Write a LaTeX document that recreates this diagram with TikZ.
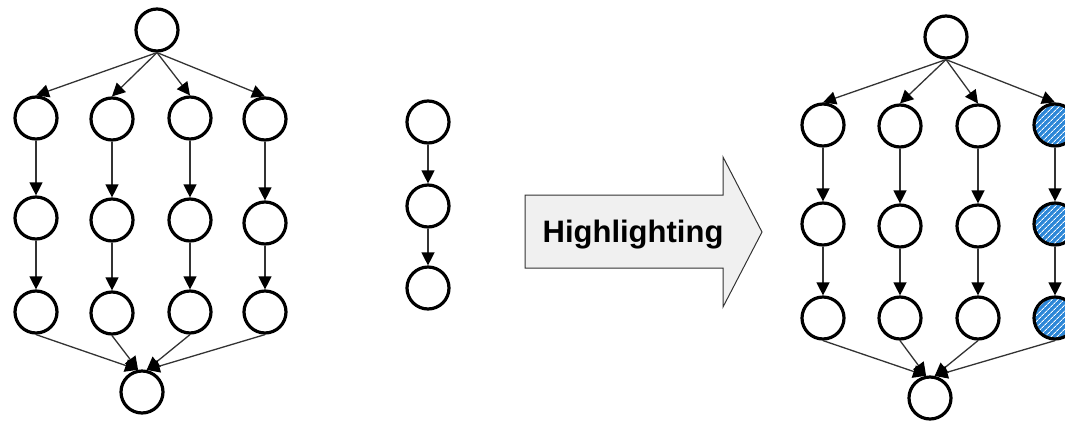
\documentclass[tikz,border=0pt]{standalone}
\usepackage{fontspec}
\setsansfont{Liberation Sans}
\usetikzlibrary{arrows.meta,patterns.meta}
\definecolor{hlblue}{RGB}{45,135,215}
\definecolor{bigarrow}{RGB}{240,240,240}

\begin{document}
\begin{tikzpicture}[x=1pt,y=-1pt,
  vert/.style={circle,draw=black,line width=3.2pt,minimum size=42pt,inner sep=0pt},
  hl/.style={vert,preaction={fill=hlblue},preaction={pattern={Lines[angle=45,distance=4pt,line width=1pt]},pattern color=white}},
  link/.style={draw=black!80,line width=1.3pt,-{Triangle[length=13pt,width=13pt,color=black]}}]

\useasboundingbox (0,0) rectangle (1065,421) ;

% left graph
\node [vert] (lt) at (157,30) {} ;
\node [vert] (l11) at (36,118) {} ;
\node [vert] (l12) at (112,119) {} ;
\node [vert] (l13) at (190,118) {} ;
\node [vert] (l14) at (265,119) {} ;
\node [vert] (l21) at (36,218) {} ;
\node [vert] (l22) at (112,220) {} ;
\node [vert] (l23) at (190,220) {} ;
\node [vert] (l24) at (265,223) {} ;
\node [vert] (l31) at (36,312) {} ;
\node [vert] (l32) at (112,313) {} ;
\node [vert] (l33) at (190,312) {} ;
\node [vert] (l34) at (265,312) {} ;
\node [vert] (lb) at (142,392) {} ;

\draw [link] (lt.south) -- (l11.north) ;
\draw [link] (lt.south) -- (l12.north) ;
\draw [link] (lt.south) -- (l13.north) ;
\draw [link] (lt.south) -- (l14.north) ;
\draw [link] (l11) -- (l21) ;
\draw [link] (l12) -- (l22) ;
\draw [link] (l13) -- (l23) ;
\draw [link] (l14) -- (l24) ;
\draw [link] (l21) -- (l31) ;
\draw [link] (l22) -- (l32) ;
\draw [link] (l23) -- (l33) ;
\draw [link] (l24) -- (l34) ;
\draw [link] (l31.south) -- (lb.100) ;
\draw [link] (l32.south) -- (lb.100) ;
\draw [link] (l33.south) -- (lb.78) ;
\draw [link] (l34.south) -- (lb.78) ;

% middle chain
\node [vert] (m1) at (428,122) {} ;
\node [vert] (m2) at (428,206) {} ;
\node [vert] (m3) at (428,288) {} ;
\draw [link] (m1) -- (m2) ;
\draw [link] (m2) -- (m3) ;

% big arrow
\draw [draw=black!80,line width=1pt,fill=bigarrow] (525,195) -- (723,195) -- (723,157) -- (762,232) -- (723,307) -- (723,268) -- (525,268) -- cycle ;
\node [font=\sffamily\bfseries\fontsize{31}{36}\selectfont,anchor=base] (hltext) at (633,242) {Highlighting} ;

% right graph
\node [vert] (rt) at (946,37) {} ;
\node [vert] (r11) at (823,125) {} ;
\node [vert] (r12) at (900,126) {} ;
\node [vert] (r13) at (978,126) {} ;
\node [hl] (r14) at (1055,125) {} ;
\node [vert] (r21) at (823,224) {} ;
\node [vert] (r22) at (900,226) {} ;
\node [vert] (r23) at (978,226) {} ;
\node [hl] (r24) at (1055,224) {} ;
\node [vert] (r31) at (823,318) {} ;
\node [vert] (r32) at (900,318) {} ;
\node [vert] (r33) at (978,318) {} ;
\node [hl] (r34) at (1055,318) {} ;
\node [vert] (rb) at (930,398) {} ;

\draw [link] (rt.south) -- (r11.north) ;
\draw [link] (rt.south) -- (r12.north) ;
\draw [link] (rt.south) -- (r13.north) ;
\draw [link] (rt.south) -- (r14.north) ;
\draw [link] (r11) -- (r21) ;
\draw [link] (r12) -- (r22) ;
\draw [link] (r13) -- (r23) ;
\draw [link] (r14) -- (r24) ;
\draw [link] (r21) -- (r31) ;
\draw [link] (r22) -- (r32) ;
\draw [link] (r23) -- (r33) ;
\draw [link] (r24) -- (r34) ;
\draw [link] (r31.south) -- (rb.100) ;
\draw [link] (r32.south) -- (rb.100) ;
\draw [link] (r33.south) -- (rb.78) ;
\draw [link] (r34.south) -- (rb.78) ;

\end{tikzpicture}
\end{document}
